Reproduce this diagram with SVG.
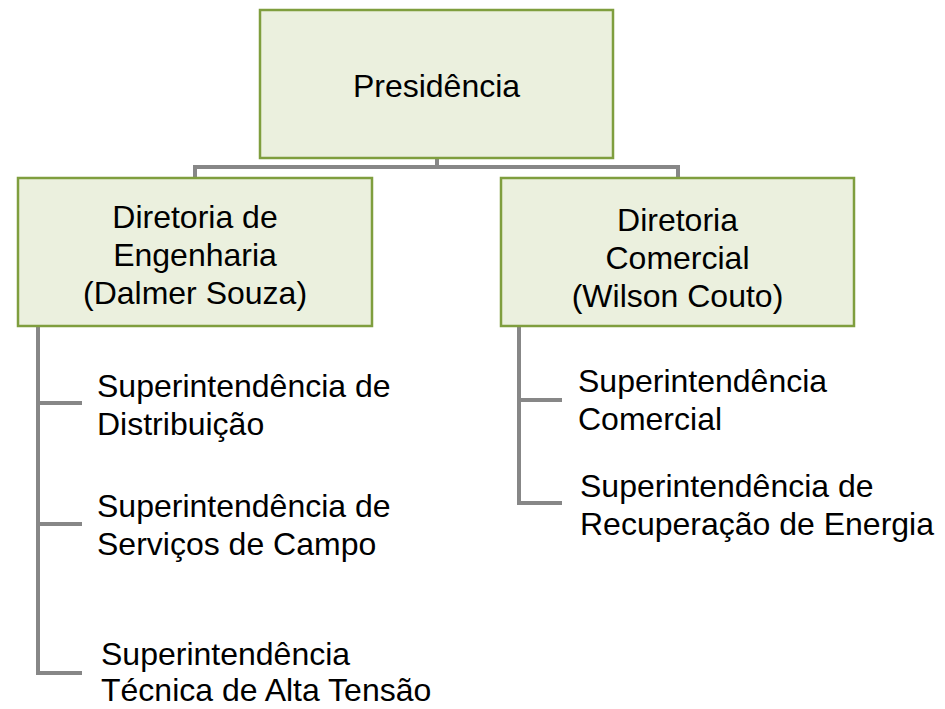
<svg xmlns="http://www.w3.org/2000/svg" width="945" height="709" viewBox="0 0 945 709">
<style>
.box{fill:#EBF0DE;stroke:#7F9E3E;stroke-width:2.5}
.t{font-family:"Liberation Sans",Arial,sans-serif;font-size:32px;fill:#000}
.c{text-anchor:middle}
.ln{fill:none;stroke:#878787;stroke-width:4}
</style>
<rect width="945" height="709" fill="#fff"/>
<g id="connectors">
<path class="ln" d="M437,158 V167 M195,167 H678 M195,165 V178 M678,165 V178"/>
<path class="ln" d="M38,326 V673 H82 M38,403 H82 M38,524 H82"/>
<path class="ln" d="M519,326 V503 H562 M519,400 H562"/>
</g>
<g id="presidencia">
<rect class="box" x="260" y="10" width="353" height="148"/>
<text class="t c" x="436.5" y="97">Presidência</text>
</g>
<g id="dir-engenharia">
<rect class="box" x="18" y="178" width="354" height="148"/>
<text class="t c" x="195" y="228">Diretoria de</text>
<text class="t c" x="195" y="266">Engenharia</text>
<text class="t c" x="195" y="304">(Dalmer Souza)</text>
</g>
<g id="dir-comercial">
<rect class="box" x="501" y="178" width="353" height="148"/>
<text class="t c" x="677.5" y="231">Diretoria</text>
<text class="t c" x="677.5" y="269">Comercial</text>
<text class="t c" x="677.5" y="307">(Wilson Couto)</text>
</g>
<g id="sup-distribuicao">
<text class="t" x="97" y="397">Superintendência de</text>
<text class="t" x="97" y="435">Distribuição</text>
</g>
<g id="sup-servicos">
<text class="t" x="97" y="517">Superintendência de</text>
<text class="t" x="97" y="555">Serviços de Campo</text>
</g>
<g id="sup-alta-tensao">
<text class="t" x="101" y="665">Superintendência</text>
<text class="t" x="101" y="701">Técnica de Alta Tensão</text>
</g>
<g id="sup-comercial">
<text class="t" x="578" y="392">Superintendência</text>
<text class="t" x="578" y="430">Comercial</text>
</g>
<g id="sup-recuperacao">
<text class="t" x="580" y="497">Superintendência de</text>
<text class="t" x="580" y="535">Recuperação de Energia</text>
</g>
</svg>
